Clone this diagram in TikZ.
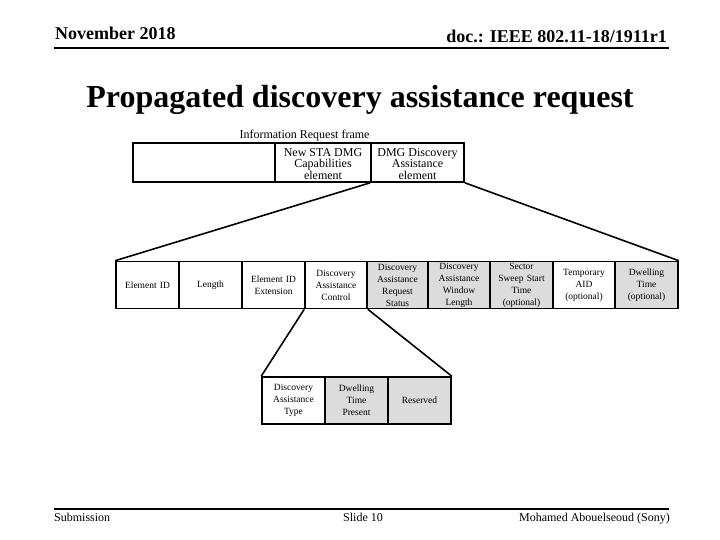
\documentclass[tikz,border=0pt]{standalone}
\usepackage{fontspec}
\setmainfont{Liberation Serif}
\definecolor{fieldgray}{RGB}{220,220,220}
\tikzset{
  field/.style={draw, line width=1.6pt, minimum height=47pt, inner sep=0pt,
    align=center, text width=58pt, font=\fontsize{9.5}{12}\selectfont},
  grayfield/.style={field, fill=fieldgray},
  framefield/.style={draw, line width=1.6pt, minimum height=39pt, inner sep=0pt},
  framelabel/.style={inner sep=0pt, align=center, yshift=-1.5pt,
    font=\fontsize{12}{11.5}\selectfont},
  zoomline/.style={line width=1.6pt},
  rule/.style={line width=2pt}
}
\begin{document}
\begin{tikzpicture}[x=1pt, y=-1pt]
  \useasboundingbox (0,0) rectangle (720,540);

  % header and footer
  \node[anchor=base west, inner sep=0pt, font=\fontsize{18}{20}\selectfont\bfseries] (month) at (55,40) {November 2018};
  \node[anchor=base east, inner sep=0pt, font=\fontsize{18}{20}\selectfont\bfseries] (doc) at (667,43) {doc.: IEEE 802.11-18/1911r1};
  \draw[rule] (54,48) -- (669,48);
  \node[anchor=base, inner sep=0pt, font=\fontsize{32}{34}\selectfont\bfseries] (title) at (360,108) {Propagated discovery assistance request};
  \draw[rule] (54,509) -- (669,509);
  \node[anchor=base west, inner sep=0pt, font=\fontsize{12}{14}\selectfont] (sub) at (54,521) {Submission};
  \node[anchor=base, inner sep=0pt, font=\fontsize{12}{14}\selectfont] (slide) at (363,521) {Slide 10};
  \node[anchor=base east, inner sep=0pt, font=\fontsize{12}{14}\selectfont] (author) at (670,521) {Mohamed Abouelseoud (Sony)};

  % information request frame
  \node[anchor=base, inner sep=0pt, font=\fontsize{12}{14}\selectfont] (frame) at (304.5,139) {Information Request frame};
  \node[framefield, minimum width=142pt] (F1) at (204,162.5) {};
  \node[framefield, minimum width=96pt,
    label={[framelabel]center:{New STA DMG\\Capabilities\\element}}] (F2) at (323,162.5) {};
  \node[framefield, minimum width=93pt,
    label={[framelabel]center:{DMG Discovery\\Assistance\\element}}] (F3) at (417.5,162.5) {};

  % DMG discovery assistance element
  \node[field, minimum width=63pt] (E1) at (147.5,285) {Element ID};
  \node[field, minimum width=63pt] (E2) at (210.5,285) {Length};
  \node[field, minimum width=63pt] (E3) at (273.5,285) {Element ID\\Extension};
  \node[field, minimum width=62pt] (E4) at (336,285) {Discovery\\Assistance\\Control};
  \node[grayfield, minimum width=61pt] (E5) at (397.5,285) {Discovery\\Assistance\\Request\\Status};
  \node[grayfield, minimum width=62pt] (E6) at (459,285) {Discovery\\Assistance\\Window\\Length};
  \node[grayfield, minimum width=63pt] (E7) at (521.5,285) {Sector\\Sweep Start\\Time\\(optional)};
  \node[field, minimum width=62pt] (E8) at (584,285) {Temporary\\AID\\(optional)};
  \node[grayfield, minimum width=63pt] (E9) at (646.5,285) {Dwelling\\Time\\(optional)};

  % discovery assistance control field
  \node[field, minimum width=63pt] (C1) at (293.5,400.5) {Discovery\\Assistance\\Type};
  \node[grayfield, minimum width=63pt] (C2) at (356.5,400.5) {Dwelling\\Time\\Present};
  \node[grayfield, minimum width=63pt] (C3) at (419.5,400.5) {Reserved};

  \draw[zoomline] (F3.south west) -- (E1.north west);
  \draw[zoomline] (F3.south east) -- (E9.north east);
  \draw[zoomline] (E4.south west) -- (C1.north west);
  \draw[zoomline] (E4.south east) -- (C3.north east);
\end{tikzpicture}
\end{document}
